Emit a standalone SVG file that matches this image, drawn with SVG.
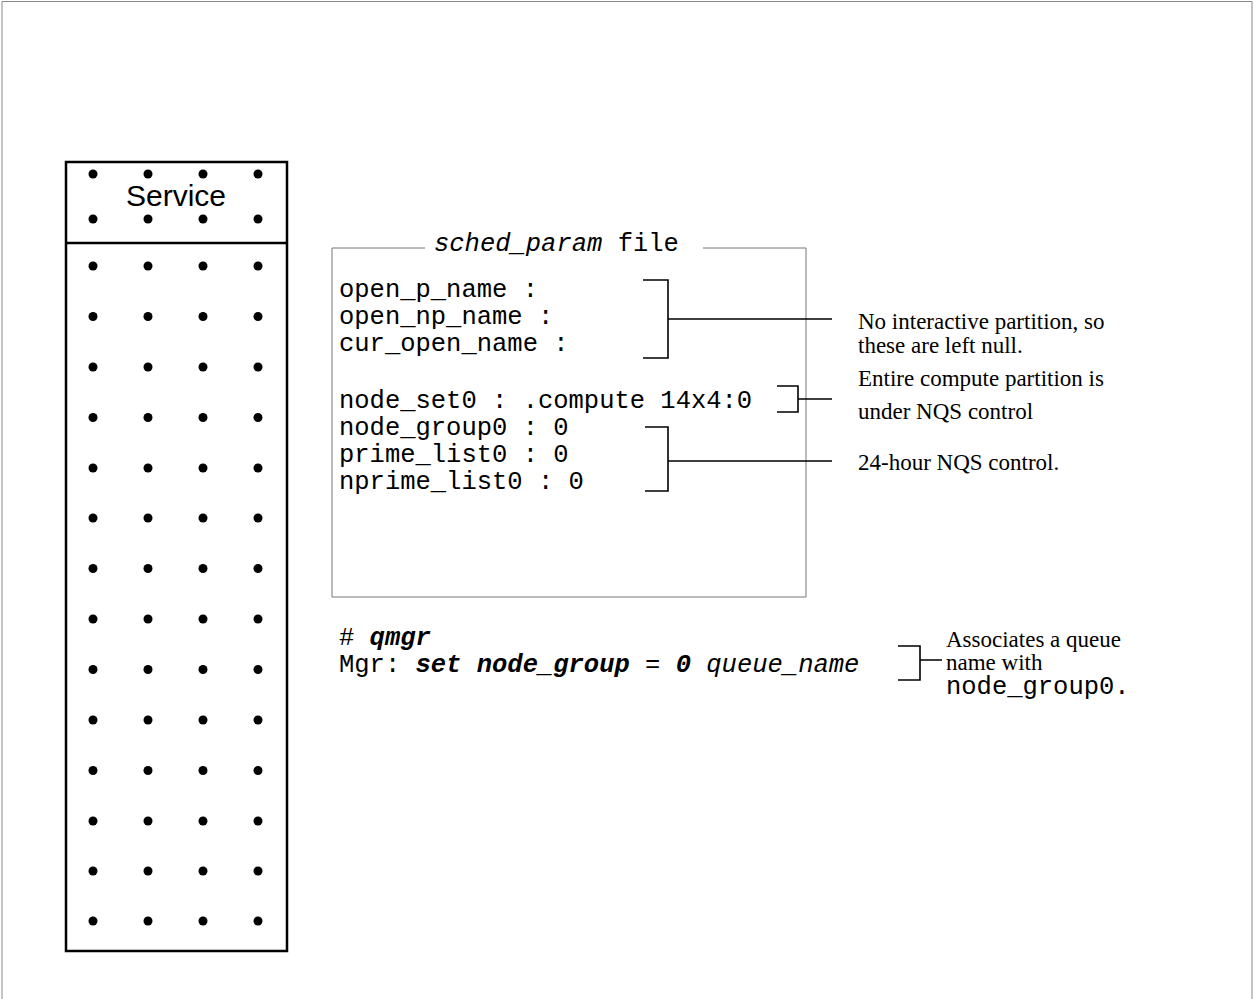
<svg xmlns="http://www.w3.org/2000/svg" width="1255" height="999" viewBox="0 0 1255 999">
<style>
.frame{fill:none;stroke:#888;stroke-width:1}
.box{fill:none;stroke:#000;stroke-width:2.5}
.thin{fill:none;stroke:#777;stroke-width:1}
.ln{fill:none;stroke:#000;stroke-width:1.6}
.mono{font-family:"Liberation Mono","Courier New",monospace;font-size:25.5px;fill:#000}
.serif{font-family:"Liberation Serif","Times New Roman",serif;font-size:23px;fill:#000}
.sans{font-family:"Liberation Sans",Arial,sans-serif;font-size:30px;fill:#000}
.it{font-style:italic}
.bi{font-style:italic;font-weight:bold}
</style>
<defs>
<g id="row"><circle cx="93" cy="0" r="4.5"/><circle cx="148" cy="0" r="4.5"/><circle cx="203" cy="0" r="4.5"/><circle cx="258" cy="0" r="4.5"/></g>
</defs>
<rect width="1255" height="999" fill="#fff"/>
<path class="frame" d="M2,999 V1.5 H1252 V999"/>
<g id="service">
<rect class="box" x="66" y="162" width="221" height="789"/>
<line class="box" x1="66" y1="243" x2="287" y2="243"/>
<text class="sans" x="176" y="206" text-anchor="middle">Service</text>
<use href="#row" y="174"/><use href="#row" y="219"/>
<use href="#row" y="266"/><use href="#row" y="316.5"/><use href="#row" y="367"/><use href="#row" y="417.5"/>
<use href="#row" y="468"/><use href="#row" y="518"/><use href="#row" y="568.5"/><use href="#row" y="619"/>
<use href="#row" y="669.5"/><use href="#row" y="720"/><use href="#row" y="770.5"/><use href="#row" y="821"/>
<use href="#row" y="871"/><use href="#row" y="921"/>
</g>
<g id="sched_param">
<path class="thin" d="M425,248 H332 V597 H806 V248 H703"/>
<text class="mono" x="434" y="251"><tspan class="it">sched_param</tspan> file</text>
<text class="mono" x="339" y="297">open_p_name :</text>
<text class="mono" x="339" y="324">open_np_name :</text>
<text class="mono" x="339" y="351">cur_open_name :</text>
<text class="mono" x="339" y="408">node_set0 : .compute 14x4:0</text>
<text class="mono" x="339" y="435">node_group0 : 0</text>
<text class="mono" x="339" y="462">prime_list0 : 0</text>
<text class="mono" x="339" y="489">nprime_list0 : 0</text>
</g>
<g id="qmgr">
<text class="mono" x="339" y="645"># <tspan class="bi">qmgr</tspan></text>
<text class="mono" x="339" y="672" xml:space="preserve">Mgr: <tspan class="bi">set node_group</tspan> = <tspan class="bi">0</tspan> <tspan class="it">queue_name</tspan></text>
</g>
<g id="notes">
<text class="serif" x="858" y="329">No interactive partition, so</text>
<text class="serif" x="858" y="353">these are left null.</text>
<text class="serif" x="858" y="386">Entire compute partition is</text>
<text class="serif" x="858" y="419">under NQS control</text>
<text class="serif" x="858" y="470">24-hour NQS control.</text>
<text class="serif" x="946" y="647">Associates a queue</text>
<text class="serif" x="946" y="670">name with</text>
<text class="mono" x="946" y="694">node_group0.</text>
</g>
<g id="connectors">
<path class="ln" d="M643,280 H668 V358 H643 M668,319 H832"/>
<path class="ln" d="M777,386 H798 V412 H777 M798,399 H832"/>
<path class="ln" d="M645,427 H668 V491 H645 M668,461 H832"/>
<path class="ln" d="M898,646 H920 V680 H898 M920,660 H942"/>
</g>
</svg>
